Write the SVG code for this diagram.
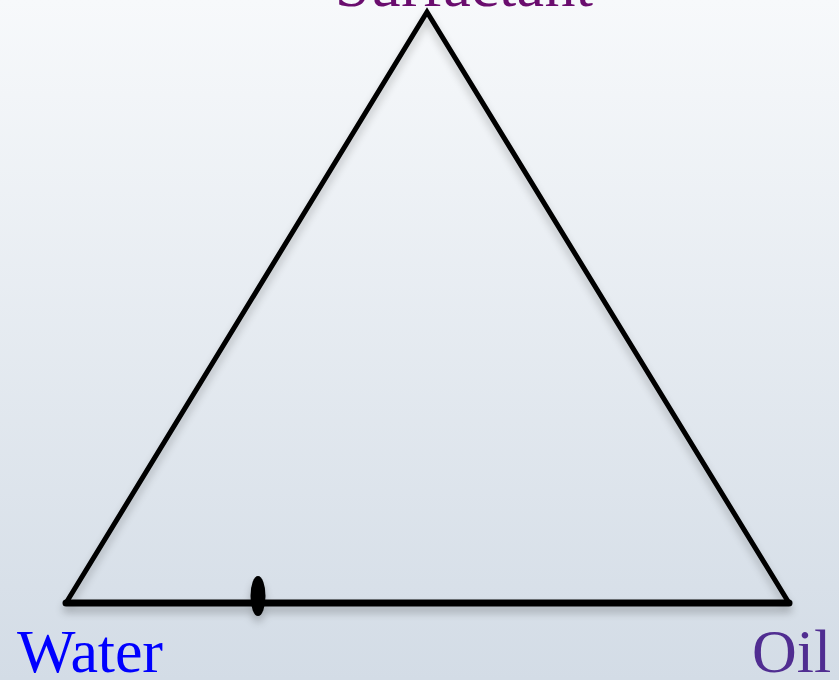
<svg xmlns="http://www.w3.org/2000/svg" width="839" height="680" viewBox="0 0 839 680">
<defs>
<linearGradient id="bg" x1="0" y1="0" x2="0" y2="1">
<stop offset="0" stop-color="#f7f9fb"/>
<stop offset="1" stop-color="#d3dce6"/>
</linearGradient>
<filter id="sh" x="-10%" y="-10%" width="120%" height="120%">
<feGaussianBlur in="SourceAlpha" stdDeviation="4"/>
<feOffset dx="0" dy="6" result="b"/>
<feComponentTransfer><feFuncA type="linear" slope="0.25"/></feComponentTransfer>
<feMerge><feMergeNode/><feMergeNode in="SourceGraphic"/></feMerge>
</filter>
<style>
.lbl{font-family:"Liberation Serif","Times New Roman",serif;font-size:62px}
.edge{stroke:#000;fill:none;stroke-linecap:round;stroke-linejoin:miter}
</style>
</defs>
<rect width="839" height="680" fill="url(#bg)"/>
<g id="connectors" filter="url(#sh)">
<path class="edge" d="M66,603 L427,12 L789,603" stroke-width="5"/>
<path class="edge" d="M66,603 L789,603" stroke-width="7"/>
<ellipse cx="258" cy="596" rx="7.5" ry="20" fill="#000"/>
</g>
<g id="surfactant"><text class="lbl" x="335" y="6" fill="#6a0d6e" textLength="258">Surfactant</text></g>
<g id="water"><text class="lbl" x="17" y="672" fill="#0000ff" textLength="146">Water</text></g>
<g id="oil"><text class="lbl" x="752" y="672" fill="#502d91">Oil</text></g>
</svg>
